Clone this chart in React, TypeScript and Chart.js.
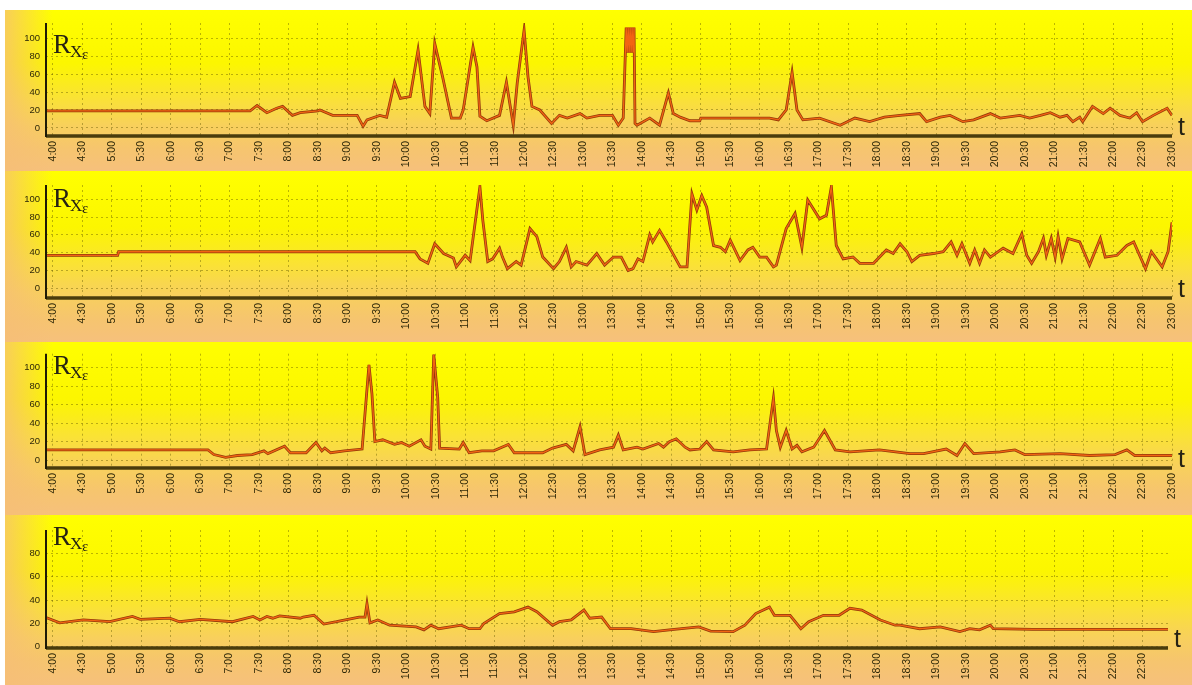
import React, { useEffect, useRef } from "react";
import { Chart, registerables } from "chart.js";

Chart.register(...registerables);

// ---- data -------------------------------------------------------------

const timeTicks = [
  "4:00", "4:30", "5:00", "5:30", "6:00", "6:30", "7:00", "7:30", "8:00", "8:30",
  "9:00", "9:30", "10:00", "10:30", "11:00", "11:30", "12:00", "12:30", "13:00", "13:30",
  "14:00", "14:30", "15:00", "15:30", "16:00", "16:30", "17:00", "17:30", "18:00", "18:30",
  "19:00", "19:30", "20:00", "20:30", "21:00", "21:30", "22:00", "22:30", "23:00",
];
const timeTicksLast = timeTicks.slice(0, timeTicks.length - 1);

const valueTicks = [0, 20, 40, 60, 80, 100];
const valueTicksLast = [0, 20, 40, 60, 80];

const rx1Times = [
  "3:53", "7:21", "7:28", "7:38", "7:48", "7:54", "8:04", "8:12", "8:30", "8:32",
  "8:45", "9:10", "9:16", "9:20", "9:33", "9:40", "9:48", "9:54", "10:04", "10:12",
  "10:19", "10:24", "10:29", "10:37", "10:46", "10:55", "10:58", "11:08", "11:12", "11:15",
  "11:22", "11:35", "11:42", "11:49", "11:53", "12:00", "12:04", "12:08", "12:16", "12:28",
  "12:36", "12:44", "12:57", "13:04", "13:17", "13:30", "13:36", "13:41", "13:44", "13:45",
  "13:46", "13:47", "13:48", "13:49", "13:50", "13:51", "13:52", "13:53", "13:55", "14:08",
  "14:18", "14:27", "14:32", "14:39", "14:49", "14:59", "15:00", "16:10", "16:19", "16:27",
  "16:33", "16:38", "16:44", "17:01", "17:22", "17:37", "17:52", "18:07", "18:23", "18:43",
  "18:50", "19:04", "19:14", "19:27", "19:38", "19:55", "20:05", "20:25", "20:35", "20:46",
  "20:56", "21:06", "21:13", "21:19", "21:26", "21:29", "21:39", "21:50", "21:57", "22:07",
  "22:17", "22:24", "22:30", "22:41", "22:55", "23:00",
];
const rx1Values = [
  19, 19, 25, 17, 22, 24, 14, 17, 19, 20,
  14, 14, 2, 9, 14, 12, 51, 33, 35, 87,
  24, 16, 94, 57, 11, 11, 20, 90, 68, 13,
  8, 14, 51, 3, 50, 109, 57, 24, 20, 5,
  14, 11, 16, 11, 14, 14, 3, 11, 112, 84,
  112, 84, 112, 84, 112, 84, 112, 5, 3, 11,
  3, 39, 16, 12, 8, 8, 11, 11, 9, 20,
  62, 20, 9, 11, 3, 11, 7, 12, 14, 16,
  7, 12, 14, 7, 9, 16, 11, 14, 11, 14,
  17, 12, 14, 7, 12, 7, 24, 16, 22, 14,
  11, 17, 7, 14, 22, 14,
];

const rx2Times = [
  "3:53", "5:06", "5:07", "10:09", "10:14", "10:22", "10:29", "10:38", "10:48", "10:51",
  "11:00", "11:05", "11:15", "11:18", "11:23", "11:28", "11:35", "11:38", "11:43", "11:52",
  "11:57", "12:06", "12:13", "12:19", "12:30", "12:36", "12:43", "12:48", "12:53", "13:04",
  "13:14", "13:22", "13:31", "13:39", "13:46", "13:51", "13:56", "14:01", "14:08", "14:11",
  "14:18", "14:25", "14:39", "14:46", "14:51", "14:56", "15:01", "15:06", "15:13", "15:20",
  "15:25", "15:30", "15:40", "15:48", "15:53", "16:00", "16:07", "16:14", "16:17", "16:27",
  "16:36", "16:43", "16:49", "17:01", "17:08", "17:13", "17:18", "17:25", "17:35", "17:42",
  "17:56", "18:09", "18:16", "18:23", "18:30", "18:35", "18:43", "18:57", "19:07", "19:15",
  "19:21", "19:26", "19:34", "19:39", "19:44", "19:49", "19:55", "20:08", "20:18", "20:27",
  "20:32", "20:37", "20:44", "20:49", "20:52", "20:57", "21:01", "21:04", "21:08", "21:14",
  "21:26", "21:36", "21:47", "21:52", "22:04", "22:14", "22:21", "22:33", "22:39", "22:50",
  "22:56", "23:00",
];
const rx2Values = [
  37, 37, 41, 41, 33, 28, 50, 39, 34, 24,
  37, 31, 114, 76, 30, 33, 45, 35, 22, 30,
  26, 67, 58, 35, 22, 30, 46, 24, 30, 26,
  39, 26, 35, 35, 20, 22, 33, 30, 60, 52,
  65, 52, 24, 24, 106, 88, 104, 91, 48, 46,
  41, 54, 31, 43, 46, 35, 35, 24, 26, 67,
  84, 46, 99, 78, 82, 114, 48, 33, 35, 28,
  28, 43, 39, 50, 41, 30, 37, 39, 41, 52,
  37, 50, 28, 43, 28, 43, 35, 45, 39, 61,
  37, 28, 41, 56, 37, 56, 35, 58, 33, 56,
  52, 26, 56, 35, 37, 48, 52, 22, 41, 24,
  41, 74,
];

const rx3Times = [
  "3:53", "6:38", "6:44", "6:56", "7:08", "7:23", "7:35", "7:39", "7:56", "8:02",
  "8:18", "8:28", "8:34", "8:37", "8:43", "8:57", "9:15", "9:22", "9:25", "9:28",
  "9:36", "9:48", "9:55", "10:03", "10:15", "10:19", "10:25", "10:28", "10:32", "10:34",
  "10:54", "10:58", "11:04", "11:17", "11:29", "11:44", "11:50", "12:04", "12:19", "12:29",
  "12:43", "12:50", "12:57", "13:02", "13:17", "13:31", "13:36", "13:41", "13:55", "14:01",
  "14:17", "14:22", "14:28", "14:35", "14:44", "14:49", "14:59", "15:06", "15:13", "15:33",
  "15:50", "16:07", "16:14", "16:17", "16:21", "16:27", "16:33", "16:38", "16:43", "16:55",
  "17:06", "17:17", "17:32", "18:02", "18:33", "18:47", "19:10", "19:21", "19:29", "19:38",
  "20:05", "20:20", "20:30", "21:06", "21:36", "22:02", "22:14", "22:22", "23:00",
];
const rx3Values = [
  11, 11, 6, 3, 5, 6, 10, 7, 15, 8,
  8, 19, 10, 13, 8, 10, 12, 103, 72, 20,
  22, 17, 19, 15, 22, 15, 12, 114, 68, 13,
  12, 19, 8, 10, 10, 17, 8, 8, 8, 13,
  17, 10, 36, 6, 11, 14, 27, 11, 14, 12,
  18, 14, 20, 23, 14, 11, 12, 20, 11, 9,
  11, 12, 67, 32, 14, 32, 12, 16, 9, 14,
  32, 11, 9, 11, 7, 7, 12, 5, 18, 7,
  9, 11, 6, 7, 5, 6, 11, 5, 5,
];

const rx4Times = [
  "3:53", "4:07", "4:31", "4:58", "5:21", "5:29", "5:59", "6:09", "6:30", "7:03",
  "7:24", "7:31", "7:38", "7:44", "7:51", "8:12", "8:15", "8:26", "8:36", "8:49",
  "9:12", "9:18", "9:20", "9:23", "9:31", "9:43", "10:10", "10:18", "10:25", "10:33",
  "10:56", "11:04", "11:15", "11:19", "11:35", "11:50", "12:04", "12:13", "12:29", "12:36",
  "12:48", "13:01", "13:07", "13:19", "13:28", "13:49", "14:12", "14:28", "14:58", "15:10",
  "15:33", "15:45", "15:56", "16:10", "16:15", "16:31", "16:42", "16:50", "17:05", "17:21",
  "17:32", "17:44", "18:03", "18:18", "18:23", "18:43", "19:04", "19:24", "19:34", "19:44",
  "19:55", "19:58", "20:38", "22:56",
];
const rx4Values = [
  25, 20.5, 23, 21.5, 26, 23.5, 24.5, 21.5, 23.5, 21.5,
  26, 23, 26, 24.5, 26.5, 24.5, 25.5, 27, 19.5, 21.5,
  25.5, 25.5, 37, 20.5, 23, 18.5, 17, 14.5, 18.5, 15.5,
  18.5, 15.5, 15.5, 20, 28.5, 30, 34, 30, 18.5, 21.5,
  23, 31.5, 24.5, 25.5, 15.5, 15.5, 13, 14.5, 17, 13.5,
  13, 18.5, 28.5, 34, 27, 27, 15.5, 21.5, 27, 27,
  33, 31.5, 23, 18.5, 18.5, 15.5, 17, 13, 15.5, 14.5,
  18.5, 15.5, 15, 15,
];

// ---- helpers ----------------------------------------------------------

const toMin = (s: string) => {
  const [h, m] = s.split(":").map(Number);
  return h * 60 + m;
};
const fmtMin = (v: number) => {
  const m = Math.round(v);
  return `${Math.floor(m / 60)}:${String(m % 60).padStart(2, "0")}`;
};

const CANVAS_LEFT = 5;
const CANVAS_WIDTH = 1187;

type PanelSpec = {
  times: string[];
  values: number[];
  xTicks: string[];
  yTicks: number[];
  xMin: string;
  xMax: string;
  yMin: number;
  yMax: number;
  top: number;
  height: number;
  plotTop: number;
  axisY: number;
  axisX: number;
  padRight: number;
  titleBase: number;
};

const panels: PanelSpec[] = [
  {
    times: rx1Times, values: rx1Values, xTicks: timeTicks, yTicks: valueTicks,
    xMin: "3:53", xMax: "23:00", yMin: -9, yMax: 117,
    top: 10, height: 161, plotTop: 13, axisY: 126, axisX: 41, padRight: 20, titleBase: 43,
  },
  {
    times: rx2Times, values: rx2Values, xTicks: timeTicks, yTicks: valueTicks,
    xMin: "3:53", xMax: "23:00", yMin: -11, yMax: 116,
    top: 171, height: 171, plotTop: 14, axisY: 127, axisX: 41, padRight: 20, titleBase: 36,
  },
  {
    times: rx3Times, values: rx3Values, xTicks: timeTicks, yTicks: valueTicks,
    xMin: "3:53", xMax: "23:00", yMin: -8.5, yMax: 115,
    top: 342, height: 173, plotTop: 10, axisY: 126, axisX: 41, padRight: 20, titleBase: 32,
  },
  {
    times: rx4Times, values: rx4Values, xTicks: timeTicksLast, yTicks: valueTicksLast,
    xMin: "3:53", xMax: "22:56", yMin: -1, yMax: 100,
    top: 515, height: 170, plotTop: 15, axisY: 133, axisX: 41, padRight: 24, titleBase: 30,
  },
];

const GRID = "rgba(95, 85, 0, 0.42)";
const TEXT = "#2e2808";

// background, axis lines, the R_Xε label and the t label
const decorPlugin = (spec: PanelSpec) => ({
  id: "panelDecor",
  beforeDraw(chart: any) {
    const { ctx, width, height } = chart;
    ctx.save();
    const g = ctx.createLinearGradient(0, 0, 0, height);
    g.addColorStop(0, "#ffff00");
    g.addColorStop(0.33, "#fcf600");
    g.addColorStop(0.55, "#fae236");
    g.addColorStop(0.72, "#f8d05c");
    g.addColorStop(0.86, "#f6c56e");
    g.addColorStop(1, "#f6c07c");
    ctx.fillStyle = g;
    ctx.fillRect(0, 0, width, height);
    const side = ctx.createLinearGradient(0, 0, 48, 0);
    side.addColorStop(0, "rgba(246, 190, 118, 0.75)");
    side.addColorStop(1, "rgba(246, 190, 118, 0)");
    ctx.fillStyle = side;
    ctx.fillRect(0, 0, 48, height);
    ctx.restore();
  },
  afterDatasetsDraw(chart: any) {
    const { ctx, chartArea } = chart;
    const { left, right, top, bottom } = chartArea;
    ctx.save();
    ctx.lineCap = "butt";
    ctx.strokeStyle = "#4a3c0c";
    ctx.lineWidth = 3.5;
    ctx.beginPath();
    ctx.moveTo(left, bottom);
    ctx.lineTo(right, bottom);
    ctx.stroke();
    ctx.strokeStyle = "#1e1a06";
    ctx.lineWidth = 2;
    ctx.beginPath();
    ctx.moveTo(left, top);
    ctx.lineTo(left, bottom + 1);
    ctx.stroke();

    ctx.fillStyle = "#262214";
    ctx.textBaseline = "alphabetic";
    const tx = left + 7;
    const base = spec.titleBase;
    ctx.font = "27px 'Liberation Serif', 'DejaVu Serif', serif";
    ctx.fillText("R", tx, base);
    const wR = ctx.measureText("R").width;
    ctx.font = "17px 'Liberation Serif', 'DejaVu Serif', serif";
    ctx.fillText("X", tx + wR - 1, base + 4);
    const wX = ctx.measureText("X").width;
    ctx.font = "14px 'Liberation Serif', 'DejaVu Serif', serif";
    ctx.fillText("ε", tx + wR + wX - 1, base + 6);

    ctx.font = "25px 'Liberation Sans', Arial, sans-serif";
    ctx.fillText("t", right + 6, bottom - 1);
    ctx.restore();
  },
});

function Panel({ spec }: { spec: PanelSpec }) {
  const ref = useRef<HTMLCanvasElement>(null);
  useEffect(() => {
    const points = spec.times.map((t, i) => ({ x: toMin(t), y: spec.values[i] }));
    const chart = new Chart(ref.current as HTMLCanvasElement, {
      type: "line",
      data: {
        datasets: [
          // bright core, drawn on top of the darker edge line
          { data: points, borderColor: "#f26412", borderWidth: 1.3, pointRadius: 0, tension: 0, order: 0 },
          { data: points, borderColor: "#93380a", borderWidth: 2.8, pointRadius: 0, tension: 0, order: 1 },
        ],
      },
      options: {
        animation: false,
        responsive: false,
        maintainAspectRatio: false,
        events: [],
        layout: { padding: { top: spec.plotTop, right: spec.padRight, left: 0, bottom: 0 } },
        plugins: { legend: { display: false }, tooltip: { enabled: false }, title: { display: false } },
        scales: {
          x: {
            type: "linear",
            min: toMin(spec.xMin),
            max: toMin(spec.xMax),
            afterBuildTicks: (s: any) => {
              s.ticks = spec.xTicks.map((t) => ({ value: toMin(t) }));
            },
            afterFit: (s: any) => {
              s.height = spec.height - spec.axisY;
            },
            ticks: {
              autoSkip: false,
              maxRotation: 90,
              minRotation: 90,
              padding: 5,
              color: TEXT,
              font: { family: "'Liberation Sans', Arial, sans-serif", size: 10.5 },
              callback: (v: any) => fmtMin(Number(v)),
            },
            grid: { color: GRID, lineWidth: 1, drawTicks: false },
            border: { display: false, dash: [2, 3] },
          },
          y: {
            type: "linear",
            min: spec.yMin,
            max: spec.yMax,
            afterBuildTicks: (s: any) => {
              s.ticks = spec.yTicks.map((v) => ({ value: v }));
            },
            afterFit: (s: any) => {
              s.width = spec.axisX;
            },
            ticks: {
              padding: 6,
              color: TEXT,
              font: { family: "'Liberation Sans', Arial, sans-serif", size: 9.5 },
            },
            grid: { color: GRID, lineWidth: 1, drawTicks: false },
            border: { display: false, dash: [2, 3] },
          },
        },
      },
      plugins: [decorPlugin(spec)],
    } as any);
    return () => chart.destroy();
  }, [spec]);
  return (
    <canvas
      ref={ref}
      width={CANVAS_WIDTH}
      height={spec.height}
      style={{ position: "absolute", left: CANVAS_LEFT, top: spec.top, display: "block" }}
    />
  );
}

export default function App() {
  return (
    <div
      style={{
        position: "absolute",
        left: 0,
        top: 0,
        width: 1192,
        height: 685,
        background: "#ffffff",
        overflow: "hidden",
      }}
    >
      {panels.map((p, i) => (
        <Panel key={i} spec={p} />
      ))}
    </div>
  );
}
